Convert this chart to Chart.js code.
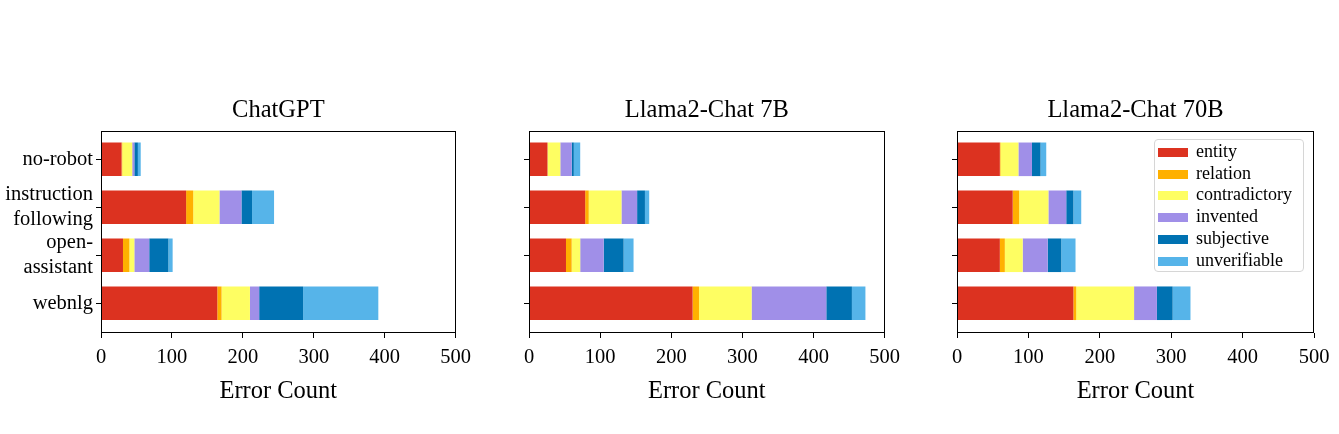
<!DOCTYPE html>
<html>
<head>
<meta charset="utf-8">
<script src="https://cdn.jsdelivr.net/npm/chart.js@4.4.1/dist/chart.umd.min.js"></script>
<style>
  html, body { margin: 0; padding: 0; background: #fff; }
  #wrap { position: relative; width: 1339px; height: 434px; overflow: hidden; }
  .panel { position: absolute; top: 0; height: 434px; }
  #legend {
    position: absolute; left: 1154px; top: 139px; width: 150px; height: 133px;
    border: 1px solid #d6d6d6; border-radius: 4px; background: rgba(255,255,255,0.85);
    box-sizing: border-box; font-family: "Liberation Serif", serif; font-size: 18px; color: #000;
  }
  .item { position: absolute; left: 3px; height: 22px; line-height: 22px; white-space: nowrap; }
  .item span.patch { position: absolute; left: 0; top: 7px; width: 30px; height: 9px; }
  .item span.lbl { position: absolute; left: 38px; top: -1px; }
</style>
</head>
<body>
<div id="wrap">
  <div class="panel" style="left:0;width:478px"><canvas id="c1"></canvas></div>
  <div class="panel" style="left:478px;width:429px"><canvas id="c2"></canvas></div>
  <div class="panel" style="left:907px;width:432px"><canvas id="c3"></canvas></div>
  <div id="legend"></div>
</div>
<script>
// categories on the y axis (top to bottom)
const categories = ['no-robot', ['instruction', 'following'], ['open-', 'assistant'], 'webnlg'];
const errorTypes = ['entity', 'relation', 'contradictory', 'invented', 'subjective', 'unverifiable'];
const colors = ['#DC3220', '#FFB000', '#FEFE62', '#A08FE8', '#0072B2', '#56B4E9'];
const xTicks = [0, 100, 200, 300, 400, 500];

// error counts, one row per error type, columns follow categories
const chatgpt = [
  [29, 120, 31, 164],   // entity
  [1, 10, 9, 6],        // relation
  [14, 37, 7, 40],      // contradictory
  [3, 31, 21, 13],      // invented
  [5, 15, 27, 62],      // subjective
  [4, 31, 6, 106]       // unverifiable
];
const llama7b = [
  [26, 79, 52, 230],
  [0, 5, 8, 9],
  [18, 46, 12, 74],
  [16, 22, 33, 105],
  [3, 11, 28, 36],
  [9, 6, 14, 19]
];
const llama70b = [
  [60, 78, 60, 163],
  [1, 9, 7, 4],
  [25, 41, 25, 81],
  [19, 25, 35, 32],
  [12, 10, 19, 22],
  [8, 11, 20, 25]
];

const FONT = "'Liberation Serif', 'Times New Roman', serif";

// full box around the plot area like matplotlib spines
const frame = {
  id: 'frame',
  afterDraw(chart) {
    const a = chart.chartArea, c = chart.ctx;
    c.save();
    c.strokeStyle = '#000';
    c.lineWidth = 1;
    c.strokeRect(Math.round(a.left) + 0.5, Math.round(a.top) + 0.5,
      Math.round(a.right - a.left) - 1, Math.round(a.bottom - a.top) - 1);
    c.restore();
  }
};

function makeChart(id, title, counts, yWidth, padRight, showLabels) {
  const ctx = document.getElementById(id).getContext('2d');
  return new Chart(ctx, {
    type: 'bar',
    data: {
      datasets: counts.map((row, k) => ({
        label: errorTypes[k],
        data: row.map((v, i) => ({ x: v, y: i })),
        backgroundColor: colors[k],
        borderWidth: 0,
        categoryPercentage: 1,
        barPercentage: 0.7
      }))
    },
    options: {
      indexAxis: 'y',
      responsive: true,
      maintainAspectRatio: false,
      animation: false,
      layout: { padding: { left: 0, right: padRight, top: 0, bottom: 0 } },
      plugins: {
        legend: { display: false },
        tooltip: { enabled: false },
        title: {
          display: true,
          text: title,
          color: '#000',
          fullSize: false,
          font: { family: FONT, size: 24.5, weight: 'normal' },
          padding: { top: 96, bottom: 5.6 }
        }
      },
      scales: {
        x: {
          type: 'linear',
          stacked: true,
          min: 0, max: 500,
          afterBuildTicks: s => { s.ticks = xTicks.map(v => ({ value: v })); },
          afterFit: s => { s.height = 101; },
          grid: { drawOnChartArea: false, drawTicks: true, tickLength: 5, color: '#000' },
          border: { display: false },
          ticks: { color: '#000', padding: 7, maxRotation: 0, font: { family: FONT, size: 20.5 } },
          title: {
            display: true, text: 'Error Count', color: '#000',
            font: { family: FONT, size: 24.5 },
            padding: { top: 0, bottom: 27.3 }
          }
        },
        y: {
          type: 'linear',
          stacked: true,
          reverse: true,
          offset: false,
          min: -0.59, max: 3.62,
          afterBuildTicks: s => { s.ticks = categories.map((c, i) => ({ value: i })); },
          afterFit: s => { s.width = yWidth; },
          grid: { offset: false, drawOnChartArea: false, drawTicks: true, tickLength: 5, color: '#000' },
          border: { display: false },
          ticks: {
            color: '#000', padding: 3, autoSkip: false,
            font: { family: FONT, size: 20.5 },
            callback: v => showLabels ? categories[v] : ''
          }
        }
      }
    },
    plugins: [frame]
  });
}

makeChart('c1', 'ChatGPT', chatgpt, 101, 17, true);
makeChart('c2', 'Llama2-Chat 7B', llama7b, 51, 21, false);
makeChart('c3', 'Llama2-Chat 70B', llama70b, 50, 25, false);

// legend inside the third panel
const legend = document.getElementById('legend');
errorTypes.forEach((name, k) => {
  const it = document.createElement('div');
  it.className = 'item';
  it.style.top = (1 + k * 21.7) + 'px';
  it.innerHTML = '<span class="patch" style="background:' + colors[k] + '"></span><span class="lbl">' + name + '</span>';
  legend.appendChild(it);
});
</script>
</body>
</html>
